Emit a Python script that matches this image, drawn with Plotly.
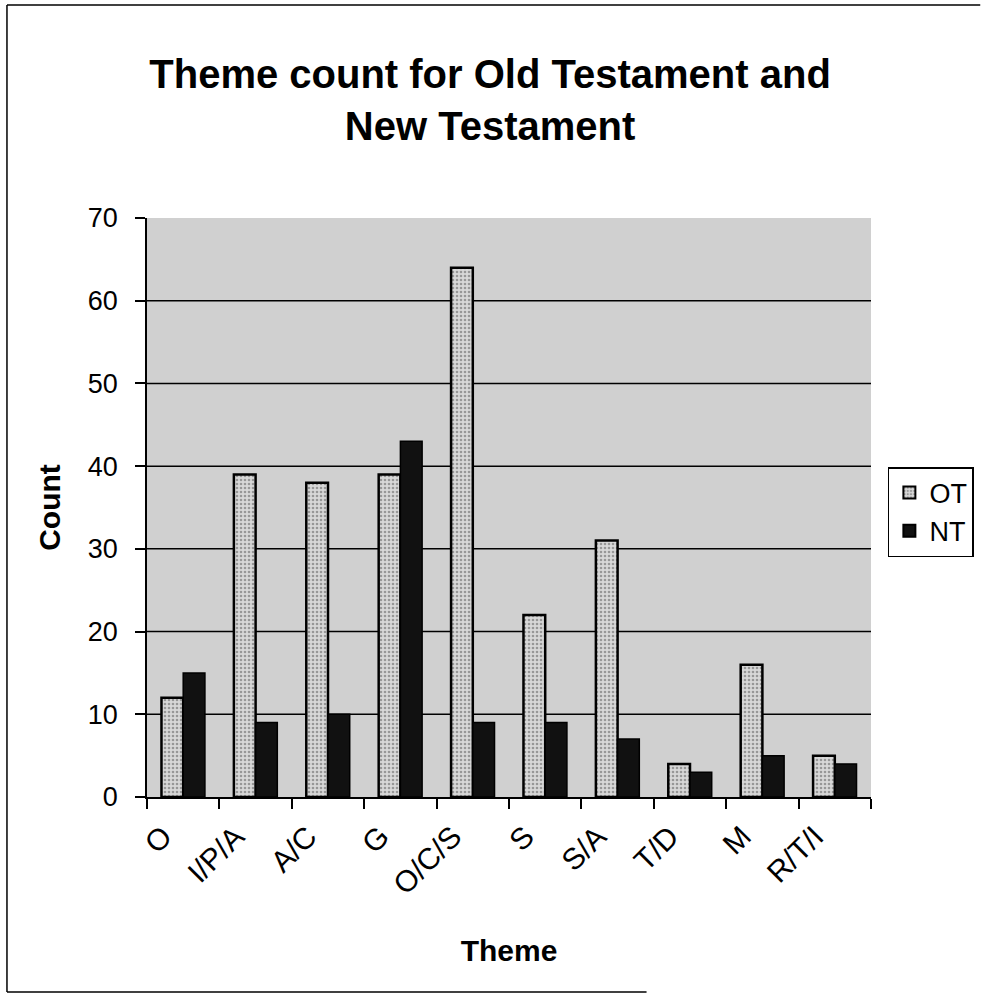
import plotly.graph_objects as go

themes = ["O", "I/P/A", "A/C", "G", "O/C/S", "S", "S/A", "T/D", "M", "R/T/I"]
ot_counts = [12, 39, 38, 39, 64, 22, 31, 4, 16, 5]
nt_counts = [15, 9, 10, 43, 9, 9, 7, 3, 5, 4]
y_ticks = [0, 10, 20, 30, 40, 50, 60, 70]
grid_values = [10, 20, 30, 40, 50, 60]

FONT = "Arial, Liberation Sans, sans-serif"

fig = go.Figure()
fig.add_trace(go.Bar(
    name="OT", x=themes, y=ot_counts,
    marker=dict(color="#d4d4d4", line=dict(color="black", width=2.5),
                pattern=dict(shape=".", fgcolor="#555555", bgcolor="#d8d8d8", size=4, solidity=0.35)),
))
fig.add_trace(go.Bar(
    name="NT", x=themes, y=nt_counts,
    marker=dict(color="#111111", line=dict(color="black", width=1.5)),
))

W, H = 986, 998
L, R, T, B = 147, 110, 218, 201
pw, ph = W - L - R, H - T - B

def px2paper_x(px):
    return (px - L) / pw

def px2paper_y(py):
    return (H - B - py) / ph

shapes = []
for g in grid_values:
    shapes.append(dict(type="line", xref="paper", yref="y", x0=0, x1=1, y0=g, y1=g,
                       line=dict(color="black", width=1.5), layer="below"))
# outer chart border (left, top, bottom)
bx0, bx1, by_top, by_bot = px2paper_x(6), px2paper_x(986), px2paper_y(5), px2paper_y(992)
shapes.append(dict(type="line", xref="paper", yref="paper", x0=bx0, x1=bx0, y0=by_bot, y1=by_top,
                   line=dict(color="black", width=1.5)))
shapes.append(dict(type="line", xref="paper", yref="paper", x0=bx0, x1=bx1, y0=by_top, y1=by_top,
                   line=dict(color="black", width=1.5)))
shapes.append(dict(type="line", xref="paper", yref="paper", x0=bx0, x1=px2paper_x(650), y0=by_bot, y1=by_bot,
                   line=dict(color="black", width=1.5)))

fig.update_layout(
    width=W, height=H,
    margin=dict(l=L, r=R, t=T, b=B),
    paper_bgcolor="white",
    plot_bgcolor="#d0d0d0",
    barmode="group",
    bargap=0.4,
    bargroupgap=0,
    font=dict(family=FONT, color="black", size=27),
    title=dict(
        text="<b>Theme count for Old Testament and<br>New Testament</b>",
        x=0.497, xanchor="center", xref="container",
        y=1 - 88 / H, yanchor="top", yref="container",
        font=dict(size=40, family=FONT, color="black"),
    ),
    legend=dict(
        x=px2paper_x(893), xanchor="left",
        y=px2paper_y(512), yanchor="middle",
        bordercolor="black", borderwidth=1.5, bgcolor="white",
        font=dict(size=27, family=FONT),
        tracegroupgap=0, itemsizing="constant",
    ),
    showlegend=True,
    xaxis=dict(
        tickangle=-45, tickson="boundaries", ticks="outside", ticklen=10,
        tickcolor="black", tickwidth=1.5,
        showline=True, linecolor="black", linewidth=2,
        showgrid=False,
        ticklabelstandoff=8, ticklabelshift=-20,
        tickfont=dict(size=30, family=FONT),
        title=dict(text="<b>Theme</b>", font=dict(size=30, family=FONT), standoff=40),
    ),
    yaxis=dict(
        range=[0, 70], tickvals=y_ticks, ticks="outside", ticklen=10,
        tickcolor="black", tickwidth=1.5,
        showline=True, linecolor="black", linewidth=1.5,
        showgrid=False,
        zeroline=False,
        ticklabelstandoff=12,
        tickfont=dict(size=27, family=FONT),
        title=dict(text="<b>Count</b>", font=dict(size=30, family=FONT), standoff=18),
    ),
    shapes=shapes,
)

fig.write_html("out.html", config={"displayModeBar": False},
               post_script="document.body.style.margin='0';document.body.style.overflow='hidden';")
